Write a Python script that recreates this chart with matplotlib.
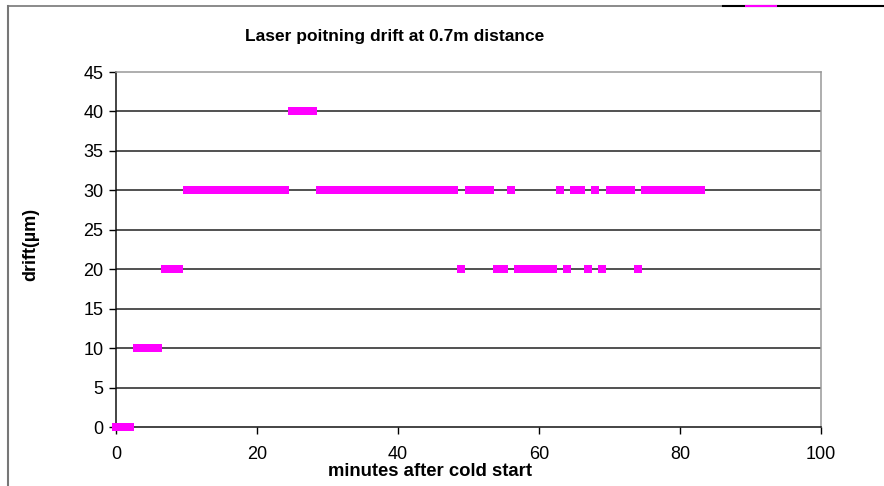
import matplotlib
matplotlib.use("Agg")
import matplotlib.pyplot as plt
from matplotlib.lines import Line2D

plt.rcParams['font.family'] = ['Liberation Sans', 'DejaVu Sans']

# --- data (one reading per minute) ---
minutes = list(range(84))
drift = [0, 0, 0,
         10, 10, 10, 10,
         20, 20, 20,
         30, 30, 30, 30, 30, 30, 30, 30, 30, 30, 30, 30, 30, 30, 30,
         40, 40, 40, 40,
         30, 30, 30, 30, 30, 30, 30, 30, 30, 30, 30, 30, 30, 30, 30, 30, 30, 30, 30, 30,
         20,
         30, 30, 30, 30,
         20, 20,
         30,
         20, 20, 20, 20, 20, 20,
         30,
         20,
         30, 30,
         20,
         30,
         20,
         30, 30, 30, 30,
         20,
         30, 30, 30, 30, 30, 30, 30, 30, 30]
yticks = [0, 5, 10, 15, 20, 25, 30, 35, 40, 45]
xticks = [0, 20, 40, 60, 80, 100]

fig = plt.figure(figsize=(8.84, 4.86), dpi=100)
ax = fig.add_axes([116/884, 1-427/486, (821-116)/884, (427-72)/486])

ax.plot(minutes, drift, linestyle='none', marker='s', markersize=6.2,
        color='#ff00ff', markeredgewidth=0, clip_on=False, zorder=5)

ax.set_xlim(0, 100)
ax.set_ylim(0, 45)
ax.set_xticks(xticks)
ax.set_yticks(yticks)
for y in yticks[1:-1]:
    ax.axhline(y, color='#222222', lw=1.1, zorder=1)

ax.tick_params(direction='out', length=5, width=1, labelsize=13, pad=4)
ax.tick_params(axis='x', pad=9)
ax.spines['left'].set_color('#111111')
ax.spines['bottom'].set_color('#111111')
ax.spines['right'].set_color('#999999')
ax.spines['top'].set_color('#999999')
for s in ax.spines.values():
    s.set_linewidth(1.1)

fig.text(430/884, 1-471/486, 'minutes after cold start',
         fontsize=13.3, fontweight='bold', ha='center', va='center')
fig.text(31/884, 1-244/486, 'drift(µm)', rotation=90,
         fontsize=13, fontweight='bold', ha='center', va='center')
fig.text(395/884, 1-37/486, 'Laser poitning drift at 0.7m distance',
         fontsize=12.5, fontweight='bold', ha='center', va='center')

# outer chart frame (partly cropped in the source)
fig.add_artist(Line2D([8/884, 8/884], [0, 1-6/486], color='#777777', lw=1.5))
fig.add_artist(Line2D([8/884, 1], [1-6/486, 1-6/486], color='#777777', lw=1.2))
fig.add_artist(Line2D([723/884, 1], [1-6/486, 1-6/486], color='black', lw=1.5))
fig.add_artist(Line2D([746/884, 776/884], [1-6/486, 1-6/486], color='#ff00ff', lw=1.5))

plt.savefig('out.png', dpi=100)
plt.close()
